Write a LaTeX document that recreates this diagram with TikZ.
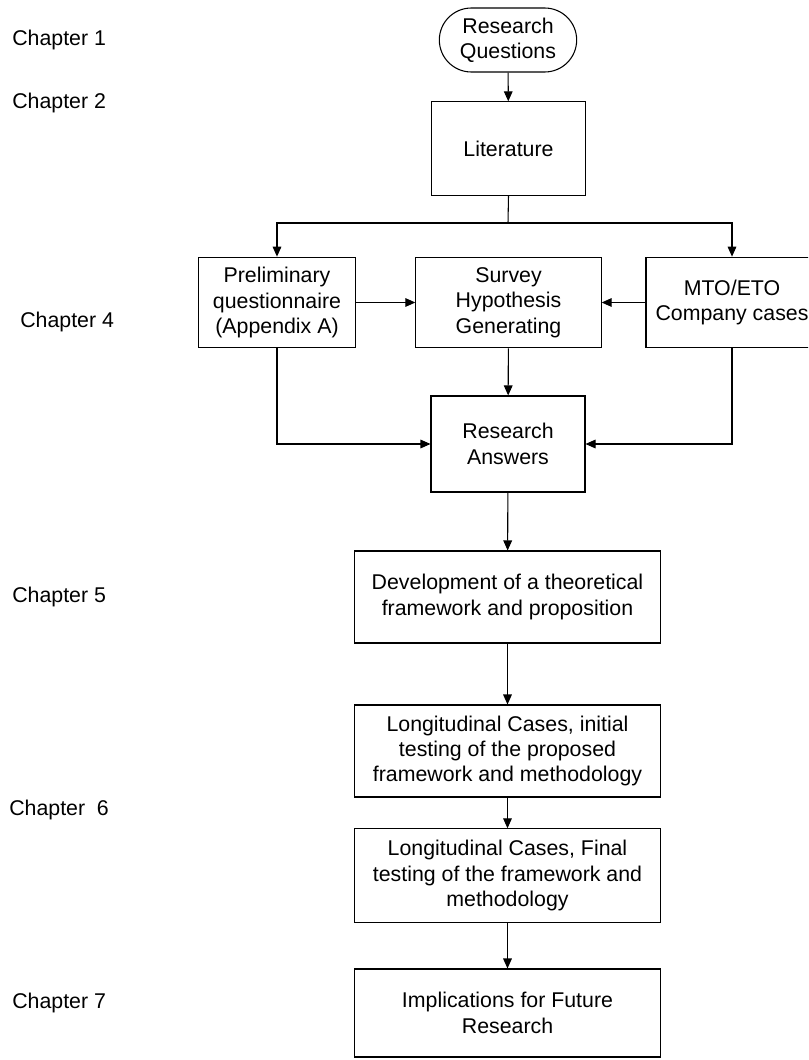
\documentclass[tikz,border=0pt]{standalone}
\usepackage{fontspec}
\setmainfont{Liberation Sans}
\usetikzlibrary{arrows.meta,shapes.misc}
\newcommand{\boxfont}{\fontsize{16pt}{19pt}\selectfont}
\begin{document}
\begin{tikzpicture}[x=0.75pt,y=-0.75pt,
  >={Triangle[width=6.5pt,length=7.5pt]},
  flow/.style={draw, line width=0.8pt, align=center, font=\boxfont, inner sep=2pt},
  stadium/.style={flow, rounded rectangle},
  chap/.style={anchor=west, font=\boxfont, inner sep=0pt},
  link/.style={line width=0.8pt, ->}]

% page frame
\fill[white] (0,0) rectangle (808,1060);
\useasboundingbox (0,0) rectangle (808,1060);
\clip (0,0) rectangle (808,1060);

% chapter markers
\node[chap] (c1) at (12,40)   {Chapter 1};
\node[chap] (c2) at (12,103)  {Chapter 2};
\node[chap] (c4) at (20,322)  {Chapter 4};
\node[chap] (c5) at (12,597)  {Chapter 5};
\node[chap] (c6) at (9,810)   {Chapter\ \ 6};
\node[chap] (c7) at (12,1003) {Chapter 7};

% flow boxes
\node[stadium, minimum width=107pt, minimum height=48pt] (rq) at (508,40) {Research\\Questions};
\node[flow, minimum width=116pt, minimum height=70pt] (lit) at (508.5,148.5) {Literature};

\node[flow, minimum width=118pt, minimum height=68pt] (prelim) at (277,302.5) {Preliminary\\questionnaire\\(Appendix A)};
\node[flow, minimum width=139pt, minimum height=68pt] (survey) at (508.5,302.5) {Survey\\Hypothesis\\Generating};
\node[flow, minimum width=129pt, minimum height=68pt] (mto) at (732,302.5) {MTO/ETO\\Company cases};

\node[flow, minimum width=115.5pt, minimum height=72pt] (answers) at (508,444) {Research\\Answers};

\node[flow, minimum width=230pt, minimum height=69pt] (dev) at (507.5,597) {Development of a theoretical\\framework and proposition};
\node[flow, minimum width=230pt, minimum height=69pt] (init) at (507.5,751) {Longitudinal Cases, initial\\testing of the proposed\\framework and methodology};
\node[flow, minimum width=230pt, minimum height=70pt] (final) at (507.5,875.5) {Longitudinal Cases, Final\\testing of the framework and\\methodology};
\node[flow, minimum width=230pt, minimum height=66pt] (impl) at (507.5,1013) {Implications for Future\\Research};

% connectors
\coordinate (split) at (508,223);
\draw[link] (rq) -- (lit);
\draw[line width=0.8pt] (lit.south) -- (split);
\draw[link] (split) -| (prelim.north);
\draw[link] (split) -| (mto.north);
\draw[link] (prelim.east) -- (survey.west);
\draw[link] (mto.west) -- (survey.east);
\draw[link] (survey) -- (answers);
\draw[link] (prelim.south) |- (answers.west);
\draw[link] (mto.south) |- (answers.east);
\draw[link] (answers) -- (dev);
\draw[link] (dev) -- (init);
\draw[link] (init) -- (final);
\draw[link] (final) -- (impl);
\end{tikzpicture}
\end{document}
